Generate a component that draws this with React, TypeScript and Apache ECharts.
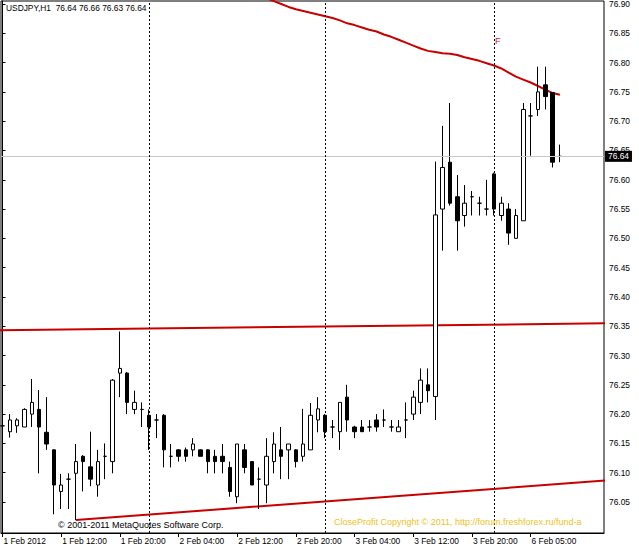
import React, { useEffect, useRef } from "react";
import * as echarts from "echarts";

// ---- data (USDJPY H1, 1 Feb 2012 04:00 .. 6 Feb 2012 09:00) ----
const tickBars = [0, 8, 16, 24, 32, 40, 48, 56, 64, 72];
const tickLabels = [
  "1 Feb 2012", "1 Feb 12:00", "1 Feb 20:00", "2 Feb 04:00", "2 Feb 12:00",
  "2 Feb 20:00", "3 Feb 04:00", "3 Feb 12:00", "3 Feb 20:00", "6 Feb 05:00",
];
const priceTicks = [
  76.05, 76.1, 76.15, 76.2, 76.25, 76.3, 76.35, 76.4, 76.45,
  76.5, 76.55, 76.6, 76.65, 76.7, 76.75, 76.8, 76.85, 76.9,
];

const opens = [
  76.18, 76.17, 76.18, 76.178, 76.2, 76.208, 76.169, 76.139, 76.068, 76.089,
  76.099, 76.128, 76.11, 76.079, 76.128, 76.119, 76.27, 76.27, 76.208, 76.208,
  76.198, 76.19, 76.198, 76.128, 76.139, 76.139, 76.139, 76.139, 76.139, 76.128,
  76.128, 76.109, 76.059, 76.139, 76.119, 76.089, 76.079, 76.119, 76.139, 76.139,
  76.139, 76.128, 76.139, 76.19, 76.198, 76.178, 76.17, 76.229, 76.178, 76.178,
  76.178, 76.19, 76.19, 76.178, 76.17, 76.19, 76.2, 76.22, 76.25, 76.23,
  76.55, 76.63, 76.571, 76.539, 76.571, 76.56, 76.55, 76.61, 76.539, 76.55,
  76.5, 76.53, 76.709, 76.72, 76.762, 76.749, 76.64,
];
const highs = [
  76.2, 76.2, 76.193, 76.21, 76.26, 76.241, 76.229, 76.14, 76.098, 76.099,
  76.149, 76.13, 76.17, 76.139, 76.15, 76.26, 76.341, 76.272, 76.24, 76.22,
  76.208, 76.2, 76.2, 76.149, 76.14, 76.143, 76.159, 76.14, 76.14, 76.139,
  76.149, 76.119, 76.149, 76.149, 76.12, 76.109, 76.159, 76.169, 76.178, 76.149,
  76.14, 76.209, 76.219, 76.229, 76.2, 76.19, 76.22, 76.25, 76.18, 76.19,
  76.19, 76.2, 76.208, 76.19, 76.19, 76.22, 76.24, 76.278, 76.278, 76.631,
  76.692, 76.731, 76.608, 76.591, 76.581, 76.571, 76.6, 76.612, 76.571, 76.56,
  76.55, 76.731, 76.731, 76.793, 76.793, 76.749, 76.66,
];
const lows = [
  76.15, 76.16, 76.168, 76.178, 76.178, 76.099, 76.139, 76.029, 76.038, 76.038,
  76.019, 76.068, 76.077, 76.059, 76.089, 76.099, 76.229, 76.2, 76.2, 76.178,
  76.139, 76.159, 76.109, 76.109, 76.119, 76.119, 76.128, 76.128, 76.099, 76.099,
  76.099, 76.059, 76.048, 76.099, 76.079, 76.038, 76.048, 76.099, 76.089, 76.089,
  76.109, 76.119, 76.139, 76.169, 76.159, 76.159, 76.139, 76.17, 76.159, 76.17,
  76.17, 76.17, 76.178, 76.17, 76.17, 76.159, 76.19, 76.2, 76.22, 76.19,
  76.479, 76.556, 76.479, 76.52, 76.539, 76.539, 76.539, 76.539, 76.53, 76.489,
  76.5, 76.53, 76.641, 76.709, 76.72, 76.621, 76.63,
];
const closes = [
  76.18, 76.19, 76.19, 76.208, 76.22, 76.178, 76.149, 76.079, 76.079, 76.089,
  76.119, 76.119, 76.089, 76.119, 76.128, 76.258, 76.278, 76.22, 76.22, 76.208,
  76.178, 76.19, 76.139, 76.128, 76.128, 76.128, 76.149, 76.128, 76.119, 76.119,
  76.119, 76.068, 76.149, 76.109, 76.079, 76.089, 76.128, 76.149, 76.128, 76.149,
  76.119, 76.149, 76.198, 76.209, 76.17, 76.178, 76.22, 76.19, 76.17, 76.17,
  76.178, 76.178, 76.19, 76.178, 76.178, 76.19, 76.229, 76.258, 76.24, 76.54,
  76.621, 76.56, 76.53, 76.56, 76.571, 76.56, 76.55, 76.55, 76.56, 76.509,
  76.539, 76.72, 76.709, 76.75, 76.742, 76.63, 76.64,
];

// moving average (red curve), first value belongs to bar maStart
const maStart = 35;
const maValues = [
  76.914, 76.91, 76.905, 76.9, 76.895, 76.891, 76.888, 76.885, 76.882, 76.879,
  76.876, 76.872, 76.867, 76.864, 76.86, 76.856, 76.853, 76.848, 76.844, 76.839,
  76.834, 76.829, 76.824, 76.82, 76.818, 76.816, 76.815, 76.813, 76.809, 76.806,
  76.803, 76.799, 76.795, 76.79, 76.783, 76.776, 76.771, 76.766, 76.76, 76.754,
  76.748, 76.745,
];

// trend lines: [bar index, price]
const upperTrend = [[-1, 76.343], [83, 76.3551]];
const lowerTrend = [[10, 76.0193], [83, 76.0873]];
const daySeparators = [20, 44, 67];
const lastPrice = 76.64;
const titleText = "USDJPY,H1  76.64 76.66 76.63 76.64";
const copyrightText = "© 2001-2011 MetaQuotes Software Corp.";
const watermarkText = "CloseProfit Copyright © 2011, http://forum.freshforex.ru/fund-a";

const FONT = '"Liberation Sans", Arial, sans-serif';

export default function App() {
  const ref = useRef<HTMLDivElement>(null);

  useEffect(() => {
    if (!ref.current) return;
    const chart = echarts.init(ref.current, undefined, { renderer: "svg" });

    const candleData = opens.map((o, i) => [i, o, closes[i], lows[i], highs[i]]);
    const maData = maValues.map((v, k) => [maStart + k, v]);

    const option: any = {
      animation: false,
      backgroundColor: "#ffffff",
      grid: {
        left: 1,
        top: 1,
        width: 603,
        height: 532,
        show: true,
        borderColor: "#000",
        borderWidth: 1,
        backgroundColor: "transparent",
      },
      xAxis: {
        type: "value",
        min: -0.2045,
        max: 82.004,
        axisLine: { show: true, lineStyle: { color: "#000", width: 1 } },
        axisTick: {
          show: true,
          length: 4,
          customValues: tickBars,
          lineStyle: { color: "#000" },
        },
        axisLabel: {
          customValues: tickBars,
          formatter: (v: number) => {
            const k = tickBars.indexOf(Math.round(v));
            return k >= 0 ? tickLabels[k] : "";
          },
          align: "left",
          margin: 4,
          padding: [0, 0, 0, 1],
          color: "#000",
          fontSize: 8.4,
          fontFamily: FONT,
        },
        splitLine: { show: false },
      },
      yAxis: {
        type: "value",
        position: "right",
        min: 75.9971,
        max: 76.9051,
        axisLine: { show: true, lineStyle: { color: "#000", width: 1 } },
        axisTick: {
          show: true,
          length: 3,
          customValues: priceTicks,
          lineStyle: { color: "#000" },
        },
        axisLabel: {
          customValues: priceTicks,
          formatter: (v: number) => v.toFixed(2),
          margin: 5,
          color: "#000",
          fontSize: 8.4,
          fontFamily: FONT,
        },
        splitLine: { show: false },
      },
      series: [
        {
          type: "line",
          name: "price line",
          data: [[opens.length - 1, lastPrice]],
          showSymbol: false,
          symbol: "none",
          lineStyle: { opacity: 0 },
          clip: false,
          silent: true,
          z: 1,
          markLine: {
            silent: true,
            symbol: ["none", "none"],
            data: [
              {
                yAxis: lastPrice,
                lineStyle: { color: "#c8c8c8", width: 1, type: "solid" },
                label: {
                  show: true,
                  position: "end",
                  distance: 1,
                  formatter: lastPrice.toFixed(2),
                  backgroundColor: "#000",
                  color: "#fff",
                  padding: [2, 3, 1, 3],
                  fontSize: 8.4,
                  fontFamily: FONT,
                },
              },
              ...daySeparators.map((b) => ({
                xAxis: b,
                lineStyle: { color: "#000", width: 1, type: [2, 2] },
                label: { show: false },
              })),
            ],
          },
        },
        {
          type: "line",
          name: "upper trend",
          data: upperTrend,
          showSymbol: false,
          symbol: "none",
          lineStyle: { color: "#c80000", width: 2 },
          silent: true,
          z: 2,
        },
        {
          type: "line",
          name: "lower trend",
          data: lowerTrend,
          showSymbol: false,
          symbol: "none",
          lineStyle: { color: "#c80000", width: 2 },
          silent: true,
          z: 2,
        },
        {
          type: "line",
          name: "MA",
          data: maData,
          showSymbol: false,
          symbol: "none",
          smooth: false,
          lineStyle: { color: "#c80000", width: 2 },
          silent: true,
          z: 2,
        },
        {
          type: "candlestick",
          name: "USDJPY",
          data: candleData,
          encode: { x: 0, y: [1, 2, 3, 4] },
          barWidth: 4,
          clip: true,
          z: 3,
          itemStyle: {
            color: "#ffffff",
            color0: "#000000",
            borderColor: "#000000",
            borderColor0: "#000000",
            borderColorDoji: "#000000",
            borderWidth: 1,
          },
        },
      ],
      graphic: [
        {
          type: "text",
          left: 6,
          top: 4,
          z: 10,
          style: { text: titleText, fill: "#000", fontSize: 8.4, fontFamily: FONT },
        },
        {
          type: "text",
          left: 58,
          top: 520,
          z: 10,
          style: { text: copyrightText, fill: "#000", fontSize: 9, fontFamily: FONT },
        },
        {
          type: "text",
          left: 334,
          top: 517,
          z: 10,
          style: { text: watermarkText, fill: "#eec21e", fontSize: 9, fontFamily: FONT },
        },
        {
          type: "text",
          left: 495,
          top: 36,
          z: 10,
          style: { text: "F", fill: "#d02020", fontSize: 9, fontFamily: FONT },
        },
      ],
    };

    chart.setOption(option);
    return () => chart.dispose();
  }, []);

  return (
    <div
      ref={ref}
      style={{ position: "absolute", left: 0, top: 0, width: 639, height: 548, background: "#fff" }}
    />
  );
}
